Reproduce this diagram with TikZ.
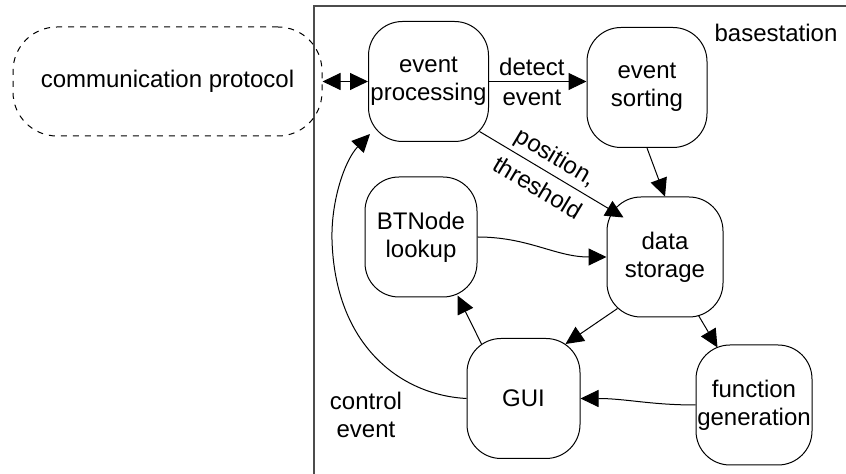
\documentclass[tikz,border=0pt]{standalone}
\usepackage{fontspec}
\setmainfont{Liberation Sans}
\usetikzlibrary{arrows.meta,calc}
\begin{document}
\begin{tikzpicture}[x=0.5pt,y=-0.5pt,
  every node/.style={font=\fontsize{12}{14}\selectfont, align=center, inner sep=0pt},
  task/.style={draw, line width=0.5pt, rounded corners=17pt,
               minimum width=60pt, minimum height=60pt},
  tip/.tip={Triangle[length=9pt,width=8.5pt]},
  arr/.style={-tip, line width=0.5pt},
  frame/.style={draw=black!70, line width=0.7pt}
]
\useasboundingbox (0,0) rectangle (846,474);

% basestation boundary (only its left and top edges fall inside the view)
\coordinate (fb) at (314,474);
\coordinate (fc) at (314,6);
\coordinate (fr) at (846,6);
\draw[frame] (fb) -- (fc) -- (fr);
\node (base) at (776,33) {basestation};

% components
\node[draw, dashed, line width=0.5pt, rounded corners=22pt,
      minimum width=154.5pt, minimum height=54.5pt]
      (proto) at (167.5,81.5) {communication protocol};
\node[task] (evproc) at (428.5,81.5) {event\\processing};
\node[task] (evsort) at (647,87.5)  {event\\sorting};
\node[task, minimum width=58pt] (store) at (665,257) {data\\storage};
\node[task, minimum width=56pt] (btn)   at (421,237) {BTNode\\lookup};
\node[task, minimum width=56.5pt] (gui) at (523.5,398.5) {GUI};
\node[task, minimum width=58pt] (fgen)  at (754,405) {function\\generation};

% connectors
\draw[tip-tip, line width=0.5pt] (proto.east) -- (evproc.west);

\draw[arr] (evproc.east) -- node[pos=0.44]{detect\\[1pt]event} (evproc.east -| evsort.west);

\draw[arr] ($(evproc.south east)+(-9.5,-10.5)$) --
  node[sloped, pos=0.47]{position,\\[4pt]threshold} ($(store.north west)+(17,21)$);

\draw[arr] (evsort.south) -- (store.north);

\draw[arr] (btn.east) to[out=0, in=180] (store.west);

\draw[arr] ($(store.south west)+(11,-9)$) -- ($(gui.north east)+(-15,6)$);

\draw[arr] ($(store.south east)+(-25,-2)$) -- ($(fgen.north west)+(22,3)$);

\draw[arr] (fgen.west) to[out=180, in=0] (gui.east);

\draw[arr] ($(gui.north west)+(15,6)$) -- ($(btn.south east)+(-20,-2)$);

\coordinate (loop) at (332,240);
\draw[arr] (gui.west) .. controls (400,395) and (335,345) .. (loop)
  .. controls (331,200) and (345,160) .. ($(evproc.south west)+(2,-8)$);
\node (ctl) at (366,415) {control\\event};
\end{tikzpicture}
\end{document}
